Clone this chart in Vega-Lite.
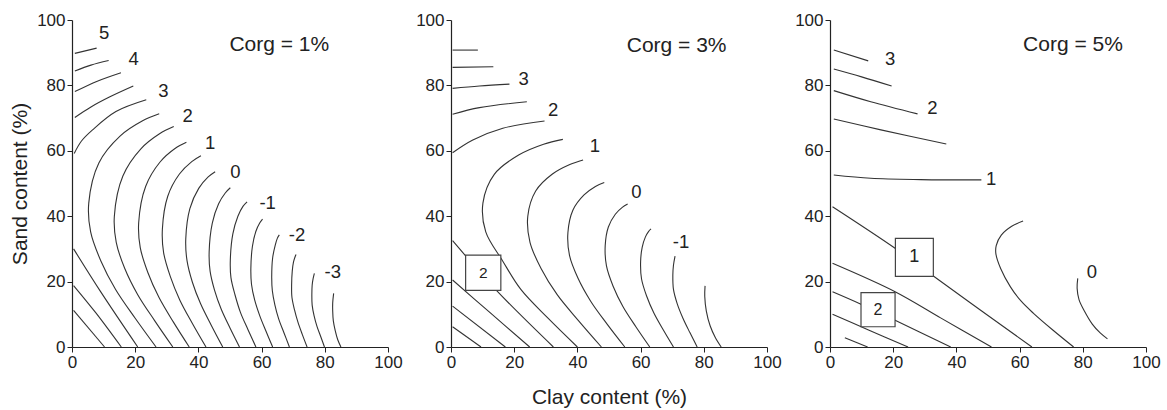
{
  "$schema": "https://vega.github.io/schema/vega-lite/v6.json",
  "background": "white",
  "padding": {"left": 9, "top": 11, "right": 5, "bottom": 5},
  "config": {
    "view": {"stroke": null},
    "font": "Liberation Sans",
    "axis": {
      "grid": false,
      "domainColor": "#222",
      "domainWidth": 1.2,
      "tickColor": "#222",
      "tickSize": 5,
      "labelColor": "#222",
      "labelFont": "Liberation Sans",
      "labelFontSize": 17,
      "labelPadding": 2,
      "labelFlush": false,
      "titleFont": "Liberation Sans",
      "titleFontSize": 21,
      "titleFontWeight": "normal",
      "titleColor": "#222"
    },
    "text": {"font": "Liberation Sans", "color": "#222"},
    "line": {"color": "#333", "strokeWidth": 1.1, "interpolate": "catmull-rom"}
  },
  "bounds": "flush",
  "spacing": 63,
  "datasets": {
    "contours": [
      {"panel": 1, "curve": "a1", "seq": 1, "clay": 0.9, "sand": 89.8},
      {"panel": 1, "curve": "a1", "seq": 2, "clay": 7.8, "sand": 91.4},
      {"panel": 1, "curve": "a2", "seq": 1, "clay": 0.9, "sand": 84.4},
      {"panel": 1, "curve": "a2", "seq": 2, "clay": 6, "sand": 86.2},
      {"panel": 1, "curve": "a2", "seq": 3, "clay": 11.6, "sand": 87.6},
      {"panel": 1, "curve": "a3", "seq": 1, "clay": 0.9, "sand": 78.1},
      {"panel": 1, "curve": "a3", "seq": 2, "clay": 8, "sand": 81.3},
      {"panel": 1, "curve": "a3", "seq": 3, "clay": 15.5, "sand": 83.9},
      {"panel": 1, "curve": "a4", "seq": 1, "clay": 0.9, "sand": 70.2},
      {"panel": 1, "curve": "a4", "seq": 2, "clay": 6, "sand": 73.4},
      {"panel": 1, "curve": "a4", "seq": 3, "clay": 12, "sand": 76.5},
      {"panel": 1, "curve": "a4", "seq": 4, "clay": 19.4, "sand": 79.8},
      {"panel": 1, "curve": "a5", "seq": 1, "clay": 0.7, "sand": 59.2},
      {"panel": 1, "curve": "a5", "seq": 2, "clay": 3, "sand": 63},
      {"panel": 1, "curve": "a5", "seq": 3, "clay": 6.5, "sand": 66.4},
      {"panel": 1, "curve": "a5", "seq": 4, "clay": 13.9, "sand": 72},
      {"panel": 1, "curve": "a5", "seq": 5, "clay": 23.5, "sand": 75.6},
      {"panel": 1, "curve": "c1", "seq": 1, "clay": 27.6, "sand": 71.3},
      {"panel": 1, "curve": "c1", "seq": 2, "clay": 22.2, "sand": 69.1},
      {"panel": 1, "curve": "c1", "seq": 3, "clay": 15.2, "sand": 64.5},
      {"panel": 1, "curve": "c1", "seq": 4, "clay": 8.5, "sand": 56.3},
      {"panel": 1, "curve": "c1", "seq": 5, "clay": 5.3, "sand": 44},
      {"panel": 1, "curve": "c1", "seq": 6, "clay": 5.9, "sand": 35.2},
      {"panel": 1, "curve": "c1", "seq": 7, "clay": 9.1, "sand": 26.4},
      {"panel": 1, "curve": "c1", "seq": 8, "clay": 13.8, "sand": 17.6},
      {"panel": 1, "curve": "c1", "seq": 9, "clay": 20, "sand": 8.8},
      {"panel": 1, "curve": "c1", "seq": 10, "clay": 26.6, "sand": 0},
      {"panel": 1, "curve": "c2", "seq": 1, "clay": 32.2, "sand": 67.4},
      {"panel": 1, "curve": "c2", "seq": 2, "clay": 27.7, "sand": 65.2},
      {"panel": 1, "curve": "c2", "seq": 3, "clay": 21.8, "sand": 60.6},
      {"panel": 1, "curve": "c2", "seq": 4, "clay": 16.1, "sand": 52.3},
      {"panel": 1, "curve": "c2", "seq": 5, "clay": 13.4, "sand": 40},
      {"panel": 1, "curve": "c2", "seq": 6, "clay": 14, "sand": 32},
      {"panel": 1, "curve": "c2", "seq": 7, "clay": 16.7, "sand": 24},
      {"panel": 1, "curve": "c2", "seq": 8, "clay": 20.8, "sand": 16},
      {"panel": 1, "curve": "c2", "seq": 9, "clay": 26.2, "sand": 8},
      {"panel": 1, "curve": "c2", "seq": 10, "clay": 31.9, "sand": 0},
      {"panel": 1, "curve": "c3", "seq": 1, "clay": 36.2, "sand": 62.6},
      {"panel": 1, "curve": "c3", "seq": 2, "clay": 32.6, "sand": 60.7},
      {"panel": 1, "curve": "c3", "seq": 3, "clay": 27.8, "sand": 56.5},
      {"panel": 1, "curve": "c3", "seq": 4, "clay": 23.3, "sand": 49.1},
      {"panel": 1, "curve": "c3", "seq": 5, "clay": 21.1, "sand": 38},
      {"panel": 1, "curve": "c3", "seq": 6, "clay": 21.6, "sand": 30.4},
      {"panel": 1, "curve": "c3", "seq": 7, "clay": 24, "sand": 22.8},
      {"panel": 1, "curve": "c3", "seq": 8, "clay": 27.5, "sand": 15.2},
      {"panel": 1, "curve": "c3", "seq": 9, "clay": 32.1, "sand": 7.6},
      {"panel": 1, "curve": "c3", "seq": 10, "clay": 37.1, "sand": 0},
      {"panel": 1, "curve": "c4", "seq": 1, "clay": 40.8, "sand": 58.5},
      {"panel": 1, "curve": "c4", "seq": 2, "clay": 37.9, "sand": 56.7},
      {"panel": 1, "curve": "c4", "seq": 3, "clay": 34, "sand": 52.9},
      {"panel": 1, "curve": "c4", "seq": 4, "clay": 30.3, "sand": 46.1},
      {"panel": 1, "curve": "c4", "seq": 5, "clay": 28.6, "sand": 36},
      {"panel": 1, "curve": "c4", "seq": 6, "clay": 29, "sand": 28.8},
      {"panel": 1, "curve": "c4", "seq": 7, "clay": 31.1, "sand": 21.6},
      {"panel": 1, "curve": "c4", "seq": 8, "clay": 34.1, "sand": 14.4},
      {"panel": 1, "curve": "c4", "seq": 9, "clay": 38.1, "sand": 7.2},
      {"panel": 1, "curve": "c4", "seq": 10, "clay": 42.4, "sand": 0},
      {"panel": 1, "curve": "c5", "seq": 1, "clay": 45.3, "sand": 53.6},
      {"panel": 1, "curve": "c5", "seq": 2, "clay": 43.1, "sand": 52},
      {"panel": 1, "curve": "c5", "seq": 3, "clay": 40.1, "sand": 48.5},
      {"panel": 1, "curve": "c5", "seq": 4, "clay": 37.3, "sand": 42.3},
      {"panel": 1, "curve": "c5", "seq": 5, "clay": 36, "sand": 33},
      {"panel": 1, "curve": "c5", "seq": 6, "clay": 36.4, "sand": 26.4},
      {"panel": 1, "curve": "c5", "seq": 7, "clay": 38.1, "sand": 19.8},
      {"panel": 1, "curve": "c5", "seq": 8, "clay": 40.7, "sand": 13.2},
      {"panel": 1, "curve": "c5", "seq": 9, "clay": 44.1, "sand": 6.6},
      {"panel": 1, "curve": "c5", "seq": 10, "clay": 47.7, "sand": 0},
      {"panel": 1, "curve": "c6", "seq": 1, "clay": 50.1, "sand": 48.7},
      {"panel": 1, "curve": "c6", "seq": 2, "clay": 48.5, "sand": 47.1},
      {"panel": 1, "curve": "c6", "seq": 3, "clay": 46.4, "sand": 43.8},
      {"panel": 1, "curve": "c6", "seq": 4, "clay": 44.4, "sand": 37.9},
      {"panel": 1, "curve": "c6", "seq": 5, "clay": 43.4, "sand": 29},
      {"panel": 1, "curve": "c6", "seq": 6, "clay": 43.7, "sand": 23.2},
      {"panel": 1, "curve": "c6", "seq": 7, "clay": 45.1, "sand": 17.4},
      {"panel": 1, "curve": "c6", "seq": 8, "clay": 47.2, "sand": 11.6},
      {"panel": 1, "curve": "c6", "seq": 9, "clay": 50, "sand": 5.8},
      {"panel": 1, "curve": "c6", "seq": 10, "clay": 53, "sand": 0},
      {"panel": 1, "curve": "c7", "seq": 1, "clay": 55.4, "sand": 44.4},
      {"panel": 1, "curve": "c7", "seq": 2, "clay": 54.1, "sand": 43},
      {"panel": 1, "curve": "c7", "seq": 3, "clay": 52.5, "sand": 40},
      {"panel": 1, "curve": "c7", "seq": 4, "clay": 50.9, "sand": 34.6},
      {"panel": 1, "curve": "c7", "seq": 5, "clay": 50.1, "sand": 26.5},
      {"panel": 1, "curve": "c7", "seq": 6, "clay": 50.3, "sand": 21.2},
      {"panel": 1, "curve": "c7", "seq": 7, "clay": 51.6, "sand": 15.9},
      {"panel": 1, "curve": "c7", "seq": 8, "clay": 53.3, "sand": 10.6},
      {"panel": 1, "curve": "c7", "seq": 9, "clay": 55.7, "sand": 5.3},
      {"panel": 1, "curve": "c7", "seq": 10, "clay": 58.2, "sand": 0},
      {"panel": 1, "curve": "c8", "seq": 1, "clay": 60.3, "sand": 39.1},
      {"panel": 1, "curve": "c8", "seq": 2, "clay": 59.4, "sand": 37.9},
      {"panel": 1, "curve": "c8", "seq": 3, "clay": 58.2, "sand": 35.4},
      {"panel": 1, "curve": "c8", "seq": 4, "clay": 57.1, "sand": 30.8},
      {"panel": 1, "curve": "c8", "seq": 5, "clay": 56.6, "sand": 24},
      {"panel": 1, "curve": "c8", "seq": 6, "clay": 56.8, "sand": 19.2},
      {"panel": 1, "curve": "c8", "seq": 7, "clay": 57.8, "sand": 14.4},
      {"panel": 1, "curve": "c8", "seq": 8, "clay": 59.4, "sand": 9.6},
      {"panel": 1, "curve": "c8", "seq": 9, "clay": 61.4, "sand": 4.8},
      {"panel": 1, "curve": "c8", "seq": 10, "clay": 63.5, "sand": 0},
      {"panel": 1, "curve": "c9", "seq": 1, "clay": 65.6, "sand": 34.3},
      {"panel": 1, "curve": "c9", "seq": 2, "clay": 65, "sand": 33.3},
      {"panel": 1, "curve": "c9", "seq": 3, "clay": 64.3, "sand": 31.1},
      {"panel": 1, "curve": "c9", "seq": 4, "clay": 63.5, "sand": 27.3},
      {"panel": 1, "curve": "c9", "seq": 5, "clay": 63.2, "sand": 21.5},
      {"panel": 1, "curve": "c9", "seq": 6, "clay": 63.4, "sand": 17.2},
      {"panel": 1, "curve": "c9", "seq": 7, "clay": 64.2, "sand": 12.9},
      {"panel": 1, "curve": "c9", "seq": 8, "clay": 65.4, "sand": 8.6},
      {"panel": 1, "curve": "c9", "seq": 9, "clay": 67.1, "sand": 4.3},
      {"panel": 1, "curve": "c9", "seq": 10, "clay": 68.8, "sand": 0},
      {"panel": 1, "curve": "c10", "seq": 1, "clay": 70.9, "sand": 28.3},
      {"panel": 1, "curve": "c10", "seq": 2, "clay": 70.6, "sand": 27.6},
      {"panel": 1, "curve": "c10", "seq": 3, "clay": 70.1, "sand": 26},
      {"panel": 1, "curve": "c10", "seq": 4, "clay": 69.7, "sand": 23.2},
      {"panel": 1, "curve": "c10", "seq": 5, "clay": 69.5, "sand": 19},
      {"panel": 1, "curve": "c10", "seq": 6, "clay": 69.6, "sand": 15.2},
      {"panel": 1, "curve": "c10", "seq": 7, "clay": 70.4, "sand": 11.4},
      {"panel": 1, "curve": "c10", "seq": 8, "clay": 71.5, "sand": 7.6},
      {"panel": 1, "curve": "c10", "seq": 9, "clay": 72.9, "sand": 3.8},
      {"panel": 1, "curve": "c10", "seq": 10, "clay": 74.4, "sand": 0},
      {"panel": 1, "curve": "c11", "seq": 1, "clay": 76.7, "sand": 22.5},
      {"panel": 1, "curve": "c11", "seq": 2, "clay": 76.3, "sand": 20.9},
      {"panel": 1, "curve": "c11", "seq": 3, "clay": 76, "sand": 18.9},
      {"panel": 1, "curve": "c11", "seq": 4, "clay": 75.9, "sand": 16},
      {"panel": 1, "curve": "c11", "seq": 5, "clay": 76, "sand": 12.8},
      {"panel": 1, "curve": "c11", "seq": 6, "clay": 76.6, "sand": 9.6},
      {"panel": 1, "curve": "c11", "seq": 7, "clay": 77.5, "sand": 6.4},
      {"panel": 1, "curve": "c11", "seq": 8, "clay": 78.7, "sand": 3.2},
      {"panel": 1, "curve": "c11", "seq": 9, "clay": 79.9, "sand": 0},
      {"panel": 1, "curve": "c12", "seq": 1, "clay": 82.8, "sand": 16.4},
      {"panel": 1, "curve": "c12", "seq": 2, "clay": 82.5, "sand": 13.5},
      {"panel": 1, "curve": "c12", "seq": 3, "clay": 82.5, "sand": 11},
      {"panel": 1, "curve": "c12", "seq": 4, "clay": 82.7, "sand": 8},
      {"panel": 1, "curve": "c12", "seq": 5, "clay": 83.3, "sand": 5},
      {"panel": 1, "curve": "c12", "seq": 6, "clay": 84.1, "sand": 2.2},
      {"panel": 1, "curve": "c12", "seq": 7, "clay": 85.1, "sand": 0},
      {"panel": 1, "curve": "s1", "seq": 1, "clay": 0.5, "sand": 11.2},
      {"panel": 1, "curve": "s1", "seq": 2, "clay": 10.3, "sand": 0},
      {"panel": 1, "curve": "s2", "seq": 1, "clay": 0.5, "sand": 18.8},
      {"panel": 1, "curve": "s2", "seq": 2, "clay": 7.5, "sand": 10.5},
      {"panel": 1, "curve": "s2", "seq": 3, "clay": 15.6, "sand": 0},
      {"panel": 1, "curve": "s3", "seq": 1, "clay": 0.5, "sand": 30},
      {"panel": 1, "curve": "s3", "seq": 2, "clay": 9, "sand": 17},
      {"panel": 1, "curve": "s3", "seq": 3, "clay": 20.8, "sand": 0},

      {"panel": 3, "curve": "b1", "seq": 1, "clay": 0.5, "sand": 90.8},
      {"panel": 3, "curve": "b1", "seq": 2, "clay": 8.5, "sand": 90.8},
      {"panel": 3, "curve": "b2", "seq": 1, "clay": 0.5, "sand": 85.5},
      {"panel": 3, "curve": "b2", "seq": 2, "clay": 13.4, "sand": 85.7},
      {"panel": 3, "curve": "b3", "seq": 1, "clay": 0.5, "sand": 79.1},
      {"panel": 3, "curve": "b3", "seq": 2, "clay": 9, "sand": 79.8},
      {"panel": 3, "curve": "b3", "seq": 3, "clay": 18.5, "sand": 80.4},
      {"panel": 3, "curve": "b4", "seq": 1, "clay": 0.5, "sand": 71.2},
      {"panel": 3, "curve": "b4", "seq": 2, "clay": 9, "sand": 73.2},
      {"panel": 3, "curve": "b4", "seq": 3, "clay": 24, "sand": 75},
      {"panel": 3, "curve": "b5", "seq": 1, "clay": 0.5, "sand": 59.4},
      {"panel": 3, "curve": "b5", "seq": 2, "clay": 6.9, "sand": 63.3},
      {"panel": 3, "curve": "b5", "seq": 3, "clay": 16.4, "sand": 66.9},
      {"panel": 3, "curve": "b5", "seq": 4, "clay": 29.6, "sand": 69.1},
      {"panel": 3, "curve": "d1", "seq": 1, "clay": 35.4, "sand": 63.5},
      {"panel": 3, "curve": "d1", "seq": 2, "clay": 29.3, "sand": 62},
      {"panel": 3, "curve": "d1", "seq": 3, "clay": 21.4, "sand": 58.7},
      {"panel": 3, "curve": "d1", "seq": 4, "clay": 13.7, "sand": 52.8},
      {"panel": 3, "curve": "d1", "seq": 5, "clay": 10.1, "sand": 44},
      {"panel": 3, "curve": "d1", "seq": 6, "clay": 11, "sand": 35.2},
      {"panel": 3, "curve": "d1", "seq": 7, "clay": 16.3, "sand": 26.4},
      {"panel": 3, "curve": "d1", "seq": 8, "clay": 22.1, "sand": 17.6},
      {"panel": 3, "curve": "d1", "seq": 9, "clay": 30.7, "sand": 8.8},
      {"panel": 3, "curve": "d1", "seq": 10, "clay": 40, "sand": 0},
      {"panel": 3, "curve": "d2", "seq": 1, "clay": 41.8, "sand": 57.2},
      {"panel": 3, "curve": "d2", "seq": 2, "clay": 37.6, "sand": 55.8},
      {"panel": 3, "curve": "d2", "seq": 3, "clay": 32.1, "sand": 52.9},
      {"panel": 3, "curve": "d2", "seq": 4, "clay": 26.8, "sand": 47.7},
      {"panel": 3, "curve": "d2", "seq": 5, "clay": 24.3, "sand": 40},
      {"panel": 3, "curve": "d2", "seq": 6, "clay": 25, "sand": 32},
      {"panel": 3, "curve": "d2", "seq": 7, "clay": 28.5, "sand": 24},
      {"panel": 3, "curve": "d2", "seq": 8, "clay": 33.6, "sand": 16},
      {"panel": 3, "curve": "d2", "seq": 9, "clay": 40.4, "sand": 8},
      {"panel": 3, "curve": "d2", "seq": 10, "clay": 47.6, "sand": 0},
      {"panel": 3, "curve": "d3", "seq": 1, "clay": 48.5, "sand": 50.3},
      {"panel": 3, "curve": "d3", "seq": 2, "clay": 45.7, "sand": 49.1},
      {"panel": 3, "curve": "d3", "seq": 3, "clay": 42.1, "sand": 46.5},
      {"panel": 3, "curve": "d3", "seq": 4, "clay": 38.6, "sand": 41.9},
      {"panel": 3, "curve": "d3", "seq": 5, "clay": 37, "sand": 35},
      {"panel": 3, "curve": "d3", "seq": 6, "clay": 37.5, "sand": 28},
      {"panel": 3, "curve": "d3", "seq": 7, "clay": 40.2, "sand": 21},
      {"panel": 3, "curve": "d3", "seq": 8, "clay": 44.2, "sand": 14},
      {"panel": 3, "curve": "d3", "seq": 9, "clay": 49.4, "sand": 7},
      {"panel": 3, "curve": "d3", "seq": 10, "clay": 55, "sand": 0},
      {"panel": 3, "curve": "d4", "seq": 1, "clay": 55.9, "sand": 43.7},
      {"panel": 3, "curve": "d4", "seq": 2, "clay": 54.2, "sand": 42.7},
      {"panel": 3, "curve": "d4", "seq": 3, "clay": 52, "sand": 40.6},
      {"panel": 3, "curve": "d4", "seq": 4, "clay": 49.8, "sand": 36.7},
      {"panel": 3, "curve": "d4", "seq": 5, "clay": 48.8, "sand": 31},
      {"panel": 3, "curve": "d4", "seq": 6, "clay": 49.2, "sand": 24.8},
      {"panel": 3, "curve": "d4", "seq": 7, "clay": 51.3, "sand": 18.6},
      {"panel": 3, "curve": "d4", "seq": 8, "clay": 54.4, "sand": 12.4},
      {"panel": 3, "curve": "d4", "seq": 9, "clay": 58.5, "sand": 6.2},
      {"panel": 3, "curve": "d4", "seq": 10, "clay": 62.9, "sand": 0},
      {"panel": 3, "curve": "d5", "seq": 1, "clay": 63.3, "sand": 36.1},
      {"panel": 3, "curve": "d5", "seq": 2, "clay": 62.5, "sand": 35.3},
      {"panel": 3, "curve": "d5", "seq": 3, "clay": 61.5, "sand": 33.6},
      {"panel": 3, "curve": "d5", "seq": 4, "clay": 60.5, "sand": 30.5},
      {"panel": 3, "curve": "d5", "seq": 5, "clay": 60, "sand": 26},
      {"panel": 3, "curve": "d5", "seq": 6, "clay": 60.3, "sand": 20.8},
      {"panel": 3, "curve": "d5", "seq": 7, "clay": 61.9, "sand": 15.6},
      {"panel": 3, "curve": "d5", "seq": 8, "clay": 64.2, "sand": 10.4},
      {"panel": 3, "curve": "d5", "seq": 9, "clay": 67.2, "sand": 5.2},
      {"panel": 3, "curve": "d5", "seq": 10, "clay": 70.4, "sand": 0},
      {"panel": 3, "curve": "d6", "seq": 1, "clay": 70.9, "sand": 27.8},
      {"panel": 3, "curve": "d6", "seq": 2, "clay": 70.4, "sand": 25},
      {"panel": 3, "curve": "d6", "seq": 3, "clay": 70.2, "sand": 22},
      {"panel": 3, "curve": "d6", "seq": 4, "clay": 70.4, "sand": 17.6},
      {"panel": 3, "curve": "d6", "seq": 5, "clay": 71.6, "sand": 13.2},
      {"panel": 3, "curve": "d6", "seq": 6, "clay": 73.4, "sand": 8.8},
      {"panel": 3, "curve": "d6", "seq": 7, "clay": 75.6, "sand": 4.4},
      {"panel": 3, "curve": "d6", "seq": 8, "clay": 77.9, "sand": 0},
      {"panel": 3, "curve": "d7", "seq": 1, "clay": 80.4, "sand": 18.7},
      {"panel": 3, "curve": "d7", "seq": 2, "clay": 80.3, "sand": 15.5},
      {"panel": 3, "curve": "d7", "seq": 3, "clay": 80.8, "sand": 11},
      {"panel": 3, "curve": "d7", "seq": 4, "clay": 82, "sand": 6.5},
      {"panel": 3, "curve": "d7", "seq": 5, "clay": 83.6, "sand": 3},
      {"panel": 3, "curve": "d7", "seq": 6, "clay": 85.5, "sand": 0},
      {"panel": 3, "curve": "t1", "seq": 1, "clay": 0.5, "sand": 6.2},
      {"panel": 3, "curve": "t1", "seq": 2, "clay": 9.5, "sand": 0},
      {"panel": 3, "curve": "t2", "seq": 1, "clay": 0.5, "sand": 12.5},
      {"panel": 3, "curve": "t2", "seq": 2, "clay": 17.2, "sand": 0},
      {"panel": 3, "curve": "t3", "seq": 1, "clay": 0.5, "sand": 20.5},
      {"panel": 3, "curve": "t3", "seq": 2, "clay": 12, "sand": 10.8},
      {"panel": 3, "curve": "t3", "seq": 3, "clay": 24.9, "sand": 0},
      {"panel": 3, "curve": "t4", "seq": 1, "clay": 0.5, "sand": 32.5},
      {"panel": 3, "curve": "t4", "seq": 2, "clay": 14.3, "sand": 17.4},
      {"panel": 3, "curve": "t4", "seq": 3, "clay": 32.4, "sand": 0},

      {"panel": 5, "curve": "e1", "seq": 1, "clay": 1.2, "sand": 90.8},
      {"panel": 5, "curve": "e1", "seq": 2, "clay": 12.1, "sand": 87.5},
      {"panel": 5, "curve": "e2", "seq": 1, "clay": 1.2, "sand": 85},
      {"panel": 5, "curve": "e2", "seq": 2, "clay": 10, "sand": 82.6},
      {"panel": 5, "curve": "e2", "seq": 3, "clay": 19.5, "sand": 79.8},
      {"panel": 5, "curve": "e3", "seq": 1, "clay": 1.2, "sand": 78.4},
      {"panel": 5, "curve": "e3", "seq": 2, "clay": 12.9, "sand": 75},
      {"panel": 5, "curve": "e3", "seq": 3, "clay": 27.7, "sand": 71.3},
      {"panel": 5, "curve": "e4", "seq": 1, "clay": 1.2, "sand": 69.7},
      {"panel": 5, "curve": "e4", "seq": 2, "clay": 16.1, "sand": 66.4},
      {"panel": 5, "curve": "e4", "seq": 3, "clay": 36.8, "sand": 62.1},
      {"panel": 5, "curve": "e5", "seq": 1, "clay": 1.2, "sand": 52.6},
      {"panel": 5, "curve": "e5", "seq": 2, "clay": 12.9, "sand": 51.6},
      {"panel": 5, "curve": "e5", "seq": 3, "clay": 28.7, "sand": 51.2},
      {"panel": 5, "curve": "e5", "seq": 4, "clay": 47.9, "sand": 51.1},
      {"panel": 5, "curve": "f1", "seq": 1, "clay": 0.8, "sand": 42.9},
      {"panel": 5, "curve": "f1", "seq": 2, "clay": 20.6, "sand": 30.2},
      {"panel": 5, "curve": "f1", "seq": 3, "clay": 32.7, "sand": 21.7},
      {"panel": 5, "curve": "f1", "seq": 4, "clay": 48, "sand": 11},
      {"panel": 5, "curve": "f1", "seq": 5, "clay": 63.9, "sand": 0},
      {"panel": 5, "curve": "f2", "seq": 1, "clay": 0.8, "sand": 25.6},
      {"panel": 5, "curve": "f2", "seq": 2, "clay": 20.6, "sand": 16.9},
      {"panel": 5, "curve": "f2", "seq": 3, "clay": 35, "sand": 8.9},
      {"panel": 5, "curve": "f2", "seq": 4, "clay": 51.1, "sand": 0},
      {"panel": 5, "curve": "f3", "seq": 1, "clay": 0.8, "sand": 16.9},
      {"panel": 5, "curve": "f3", "seq": 2, "clay": 9.8, "sand": 13.1},
      {"panel": 5, "curve": "f3", "seq": 3, "clay": 20.6, "sand": 8.2},
      {"panel": 5, "curve": "f3", "seq": 4, "clay": 38.2, "sand": 0},
      {"panel": 5, "curve": "f4", "seq": 1, "clay": 0.8, "sand": 10},
      {"panel": 5, "curve": "f4", "seq": 2, "clay": 12, "sand": 5.3},
      {"panel": 5, "curve": "f4", "seq": 3, "clay": 24.7, "sand": 0},
      {"panel": 5, "curve": "f5", "seq": 1, "clay": 4.7, "sand": 2.8},
      {"panel": 5, "curve": "f5", "seq": 2, "clay": 11.9, "sand": 0},
      {"panel": 5, "curve": "g1", "seq": 1, "clay": 61.1, "sand": 38.5},
      {"panel": 5, "curve": "g1", "seq": 2, "clay": 57.5, "sand": 36.9},
      {"panel": 5, "curve": "g1", "seq": 3, "clay": 54.2, "sand": 34.2},
      {"panel": 5, "curve": "g1", "seq": 4, "clay": 52.6, "sand": 31},
      {"panel": 5, "curve": "g1", "seq": 5, "clay": 52.5, "sand": 28.5},
      {"panel": 5, "curve": "g1", "seq": 6, "clay": 54, "sand": 24},
      {"panel": 5, "curve": "g1", "seq": 7, "clay": 57.1, "sand": 18.4},
      {"panel": 5, "curve": "g1", "seq": 8, "clay": 60.5, "sand": 14},
      {"panel": 5, "curve": "g1", "seq": 9, "clay": 64.4, "sand": 10.3},
      {"panel": 5, "curve": "g1", "seq": 10, "clay": 70.5, "sand": 5.2},
      {"panel": 5, "curve": "g1", "seq": 11, "clay": 77.1, "sand": 0},
      {"panel": 5, "curve": "g2", "seq": 1, "clay": 78.4, "sand": 21},
      {"panel": 5, "curve": "g2", "seq": 2, "clay": 78.2, "sand": 18},
      {"panel": 5, "curve": "g2", "seq": 3, "clay": 78.8, "sand": 14.5},
      {"panel": 5, "curve": "g2", "seq": 4, "clay": 80.5, "sand": 11},
      {"panel": 5, "curve": "g2", "seq": 5, "clay": 83, "sand": 7},
      {"panel": 5, "curve": "g2", "seq": 6, "clay": 85.5, "sand": 4.3},
      {"panel": 5, "curve": "g2", "seq": 7, "clay": 87.8, "sand": 2.5}
    ],
    "labels": [
      {"panel": 1, "clay": 10.2, "sand": 95.9, "label": "5"},
      {"panel": 1, "clay": 19.5, "sand": 88, "label": "4"},
      {"panel": 1, "clay": 28.9, "sand": 78.4, "label": "3"},
      {"panel": 1, "clay": 36.6, "sand": 70.6, "label": "2"},
      {"panel": 1, "clay": 43.7, "sand": 62.5, "label": "1"},
      {"panel": 1, "clay": 51.7, "sand": 53.6, "label": "0"},
      {"panel": 1, "clay": 61.9, "sand": 43.9, "label": "-1"},
      {"panel": 1, "clay": 71.2, "sand": 34.3, "label": "-2"},
      {"panel": 1, "clay": 82.5, "sand": 23, "label": "-3"},
      {"panel": 3, "clay": 23, "sand": 82, "label": "3"},
      {"panel": 3, "clay": 32.3, "sand": 72.5, "label": "2"},
      {"panel": 3, "clay": 45.5, "sand": 61.5, "label": "1"},
      {"panel": 3, "clay": 58.7, "sand": 47.5, "label": "0"},
      {"panel": 3, "clay": 72.8, "sand": 32.2, "label": "-1"},
      {"panel": 5, "clay": 19, "sand": 88, "label": "3"},
      {"panel": 5, "clay": 32.4, "sand": 73, "label": "2"},
      {"panel": 5, "clay": 51, "sand": 51.3, "label": "1"},
      {"panel": 5, "clay": 82.9, "sand": 23, "label": "0"}
    ],
    "boxes": [
      {"panel": 3, "clay": 10.2, "sand": 22.7, "label": "2"},
      {"panel": 5, "clay": 26.7, "sand": 27.4, "label": "1"},
      {"panel": 5, "clay": 15.2, "sand": 11.4, "label": "2"}
    ],
    "headings": [
      {"panel": 1, "clay": 65.6, "sand": 92.4, "label": "Corg = 1%"},
      {"panel": 3, "clay": 71.4, "sand": 92.2, "label": "Corg = 3%"},
      {"panel": 5, "clay": 76.9, "sand": 92.4, "label": "Corg = 5%"}
    ]
  },
  "hconcat": [
    {
      "width": 316,
      "height": 327,
      "encoding": {
        "x": {"field": "clay", "type": "quantitative", "scale": {"domain": [0, 100]}, "axis": {"values": [0, 20, 40, 60, 80, 100], "title": null}},
        "y": {"field": "sand", "type": "quantitative", "scale": {"domain": [0, 100]}, "axis": {"values": [0, 20, 40, 60, 80, 100], "title": "Sand content (%)", "titlePadding": 6}}
      },
      "layer": [
        {"data": {"name": "contours"}, "transform": [{"filter": "datum.panel == 1"}], "mark": {"type": "line"}, "encoding": {"detail": {"field": "curve"}, "order": {"field": "seq"}}},
        {"data": {"name": "labels"}, "transform": [{"filter": "datum.panel == 1"}], "mark": {"type": "text", "fontSize": 18.5}, "encoding": {"text": {"field": "label"}}},
        {"data": {"name": "headings"}, "transform": [{"filter": "datum.panel == 1"}], "mark": {"type": "text", "fontSize": 21}, "encoding": {"text": {"field": "label"}}}
      ]
    },
    {
      "width": 316,
      "height": 327,
      "encoding": {
        "x": {"field": "clay", "type": "quantitative", "scale": {"domain": [0, 100]}, "axis": {"values": [0, 20, 40, 60, 80, 100], "title": "Clay content (%)", "titlePadding": 16}},
        "y": {"field": "sand", "type": "quantitative", "scale": {"domain": [0, 100]}, "axis": {"values": [0, 20, 40, 60, 80, 100], "title": null}}
      },
      "layer": [
        {"data": {"name": "contours"}, "transform": [{"filter": "datum.panel == 3"}], "mark": {"type": "line"}, "encoding": {"detail": {"field": "curve"}, "order": {"field": "seq"}}},
        {"data": {"name": "boxes"}, "transform": [{"filter": "datum.panel == 3"}], "mark": {"type": "point", "shape": "square", "size": 1240, "filled": true, "fill": "white", "stroke": "#444", "strokeWidth": 1.2, "opacity": 1}},
        {"data": {"name": "boxes"}, "transform": [{"filter": "datum.panel == 3"}], "mark": {"type": "text", "fontSize": 15.5}, "encoding": {"text": {"field": "label"}}},
        {"data": {"name": "labels"}, "transform": [{"filter": "datum.panel == 3"}], "mark": {"type": "text", "fontSize": 18.5}, "encoding": {"text": {"field": "label"}}},
        {"data": {"name": "headings"}, "transform": [{"filter": "datum.panel == 3"}], "mark": {"type": "text", "fontSize": 21}, "encoding": {"text": {"field": "label"}}}
      ]
    },
    {
      "width": 316,
      "height": 327,
      "encoding": {
        "x": {"field": "clay", "type": "quantitative", "scale": {"domain": [0, 100]}, "axis": {"values": [0, 20, 40, 60, 80, 100], "title": null}},
        "y": {"field": "sand", "type": "quantitative", "scale": {"domain": [0, 100]}, "axis": {"values": [0, 20, 40, 60, 80, 100], "title": null}}
      },
      "layer": [
        {"data": {"name": "contours"}, "transform": [{"filter": "datum.panel == 5"}], "mark": {"type": "line"}, "encoding": {"detail": {"field": "curve"}, "order": {"field": "seq"}}},
        {"data": {"name": "boxes"}, "transform": [{"filter": "datum.panel == 5 && datum.label == '1'"}], "mark": {"type": "point", "shape": "square", "size": 1440, "filled": true, "fill": "white", "stroke": "#444", "strokeWidth": 1.2, "opacity": 1}},
        {"data": {"name": "boxes"}, "transform": [{"filter": "datum.panel == 5 && datum.label == '2'"}], "mark": {"type": "point", "shape": "square", "size": 1160, "filled": true, "fill": "white", "stroke": "#444", "strokeWidth": 1.2, "opacity": 1}},
        {"data": {"name": "boxes"}, "transform": [{"filter": "datum.panel == 5 && datum.label == '1'"}], "mark": {"type": "text", "fontSize": 18}, "encoding": {"text": {"field": "label"}}},
        {"data": {"name": "boxes"}, "transform": [{"filter": "datum.panel == 5 && datum.label == '2'"}], "mark": {"type": "text", "fontSize": 16}, "encoding": {"text": {"field": "label"}}},
        {"data": {"name": "labels"}, "transform": [{"filter": "datum.panel == 5"}], "mark": {"type": "text", "fontSize": 18.5}, "encoding": {"text": {"field": "label"}}},
        {"data": {"name": "headings"}, "transform": [{"filter": "datum.panel == 5"}], "mark": {"type": "text", "fontSize": 21}, "encoding": {"text": {"field": "label"}}}
      ]
    }
  ]
}
